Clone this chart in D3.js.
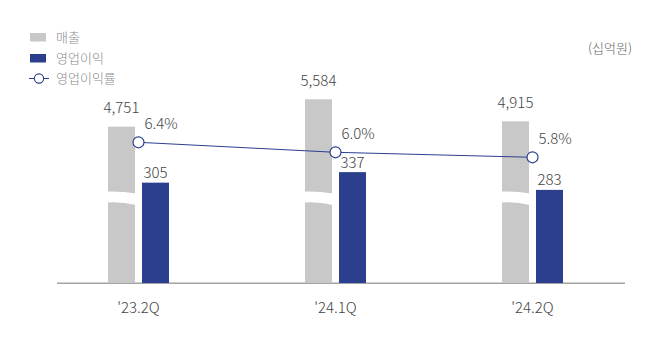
<!DOCTYPE html>
<html><head><meta charset="utf-8">
<script src="https://cdn.jsdelivr.net/npm/d3@7"></script>
<style>
html,body{margin:0;padding:0;background:#fff;}
text{font-family:"Noto Sans CJK KR","Noto Sans",sans-serif;font-weight:300;}
</style></head>
<body>
<svg id="c" width="646" height="340"></svg>
<script>
const categories = ["'23.2Q", "'24.1Q", "'24.2Q"];
const revenue = [4751, 5584, 4915];
const opProfit = [305, 337, 283];
const opMargin = [6.4, 6.0, 5.8];
const seriesNames = ["매출", "영업이익", "영업이익률"];
const unitLabel = "(십억원)";

const grayC = "#c8c8c8", blueC = "#2c3f8e", textC = "#444", legendC = "#8a8a8a";
const svg = d3.select("#c");
const base = 283;

const x = d3.scaleBand().domain(categories).range([40, 631]);
const yOp = d3.scaleLinear().domain([0, 600]).range([base, base - 197.4]);
const yRev = d3.scaleLinear().domain([0, 6000]).range([base, base - 197.4]);
const yRate = d3.scaleLinear().domain([5, 7]).range([177.3, 127.3]);
const cx = c => x(c) + x.bandwidth() / 2;
const bw = 27, gap = 3.5;
const fmt = d3.format(",");

// axis line
svg.append("line").attr("x1", 57).attr("x2", 625).attr("y1", base + 0.2).attr("y2", base + 0.2)
  .attr("stroke", "#a3a3a3").attr("stroke-width", 1.5);

// revenue bars
const data = categories.map((c, i) => ({c, rev: revenue[i], op: opProfit[i], rate: opMargin[i]}));
svg.selectAll(".rev").data(data).join("rect")
  .attr("x", d => cx(d.c) - gap - bw).attr("width", bw)
  .attr("y", d => yRev(d.rev)).attr("height", d => base - yRev(d.rev))
  .attr("fill", grayC);
// break marks
const bc = yRev(2600);
svg.selectAll(".brk").data(data).join("path")
  .attr("d", d => {
    const x0 = cx(d.c) - gap - bw - 1, x1 = cx(d.c) - gap + 1, m = (x0 + x1) / 2;
    return `M${x0},${bc - 6} Q${m},${bc - 6.5} ${x1},${bc - 4} L${x1},${bc + 7.5} Q${m},${bc + 4} ${x0},${bc + 5} Z`;
  })
  .attr("fill", "#fff");
svg.selectAll(".revl").data(data).join("text")
  .attr("x", d => cx(d.c) - gap - bw / 2).attr("y", d => yRev(d.rev) - 13.5)
  .attr("text-anchor", "middle").attr("font-size", 15).attr("fill", textC)
  .text(d => fmt(d.rev));

// op profit bars
svg.selectAll(".op").data(data).join("rect")
  .attr("x", d => cx(d.c) + gap).attr("width", bw)
  .attr("y", d => yOp(d.op)).attr("height", d => base - yOp(d.op))
  .attr("fill", blueC);
svg.selectAll(".opl").data(data).join("text")
  .attr("x", d => cx(d.c) + gap + bw / 2).attr("y", d => yOp(d.op) - 4.5)
  .attr("text-anchor", "middle").attr("font-size", 15).attr("fill", textC)
  .text(d => d.op);

// margin line
svg.append("path").datum(data)
  .attr("d", d3.line().x(d => cx(d.c)).y(d => yRate(d.rate)))
  .attr("fill", "none").attr("stroke", blueC).attr("stroke-width", 1);
svg.selectAll(".pt").data(data).join("circle")
  .attr("cx", d => cx(d.c)).attr("cy", d => yRate(d.rate)).attr("r", 5.5)
  .attr("fill", "#fff").attr("stroke", blueC).attr("stroke-width", 1.2);
svg.selectAll(".ptl").data(data).join("text")
  .attr("x", d => cx(d.c) + 6).attr("y", d => yRate(d.rate) - 13.5)
  .attr("font-size", 15).attr("fill", textC)
  .text(d => d.rate.toFixed(1) + "%");

// x labels
svg.selectAll(".xl").data(categories).join("text")
  .attr("x", d => cx(d)).attr("y", 312.5).attr("text-anchor", "middle")
  .attr("font-size", 15).attr("fill", textC).text(d => d);

// legend
const lg = svg.append("g").attr("font-size", 13).attr("fill", legendC);
lg.append("rect").attr("x", 30).attr("y", 33).attr("width", 16).attr("height", 8.5).attr("fill", grayC);
lg.append("rect").attr("x", 30).attr("y", 54).attr("width", 16).attr("height", 8.5).attr("fill", blueC);
lg.append("line").attr("x1", 29).attr("x2", 49).attr("y1", 78.5).attr("y2", 78.5).attr("stroke", blueC).attr("stroke-width", 1);
lg.append("circle").attr("cx", 39).attr("cy", 78.5).attr("r", 4.6).attr("fill", "#fff").attr("stroke", blueC).attr("stroke-width", 1.1);
[37.5, 58.5, 78.5].forEach((yy, i) => {
  lg.append("text").attr("x", 56).attr("y", yy).attr("dy", "0.36em").attr("fill", legendC).text(seriesNames[i]);
});

svg.append("text").attr("x", 632).attr("y", 48).attr("dy", "0.36em").attr("text-anchor", "end")
  .attr("font-size", 13).attr("fill", "#666").text(unitLabel);
</script>
</body></html>
